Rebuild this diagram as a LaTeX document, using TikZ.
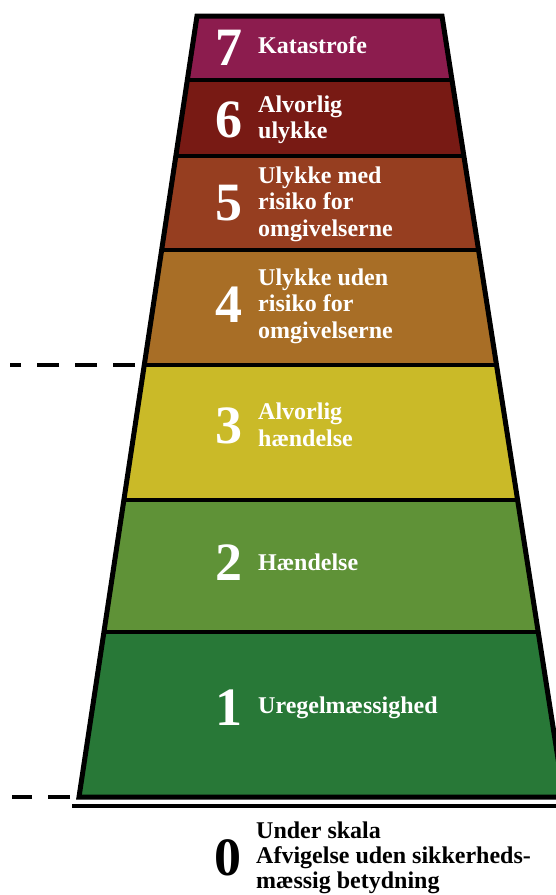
\documentclass[tikz,border=0pt]{standalone}
\usepackage{fontspec}
\setmainfont{Liberation Serif}
\definecolor{c7}{RGB}{140,28,78}
\definecolor{c6}{RGB}{120,26,20}
\definecolor{c5}{RGB}{150,62,32}
\definecolor{c4}{RGB}{168,110,38}
\definecolor{c3}{RGB}{202,186,40}
\definecolor{c2}{RGB}{95,146,55}
\definecolor{c1}{RGB}{40,120,55}
\begin{document}
\begin{tikzpicture}[x=1pt,y=-1pt,
  digit/.style={anchor=base,inner sep=0pt,text=white,font=\fontsize{54}{54}\selectfont\bfseries},
  lbl/.style={anchor=base west,inner sep=0pt,text=white,font=\fontsize{24}{26.5}\selectfont\bfseries},
  mlbl/.style={anchor=west,inner sep=0pt,align=left,text=white,font=\fontsize{24}{26.5}\selectfont\bfseries},
  blbl/.style={mlbl,text=black,font=\fontsize{24}{25}\selectfont\bfseries},
  bdigit/.style={digit,text=black},
  divider/.style={line width=4pt},
  outline/.style={line width=5pt,line join=miter},
  dashline/.style={line width=4pt,dash pattern=on 22pt off 16pt}]
\useasboundingbox (0,0) rectangle (556,895);
\fill[white] (0,0) rectangle (556,895);
\coordinate (TL) at (197,16);
\coordinate (TR) at (442,16);
\coordinate (BR) at (564,797);
\coordinate (BL) at (79,797);
\begin{scope}
  \clip (TL)--(TR)--(BR)--(BL)--cycle;
  \fill[c7] (0,16) rectangle (600,80);
  \fill[c6] (0,80) rectangle (600,156);
  \fill[c5] (0,156) rectangle (600,250);
  \fill[c4] (0,250) rectangle (600,365);
  \fill[c3] (0,365) rectangle (600,500);
  \fill[c2] (0,500) rectangle (600,632);
  \fill[c1] (0,632) rectangle (600,797);
  \foreach \yy in {80,156,250,365,500,632}
    \draw[divider] (0,\yy) -- (600,\yy);
\end{scope}
\draw[outline] (TL)--(TR)--(BR)--(BL)--cycle;
% base line
\coordinate (B1) at (72,806);
\coordinate (B2) at (580,806);
\draw[line width=4pt] (B1) -- (B2);
% dashed lines
\coordinate (D1a) at (135,365);
\coordinate (D1b) at (10,365);
\draw[dashline] (D1a) -- (D1b);
\coordinate (D2a) at (70,797);
\coordinate (D2b) at (12,797);
\draw[dashline] (D2a) -- (D2b);
% level 7
\node[digit] (n7) at (229,65) {7};
\node[lbl] (t7) at (258,53) {Katastrofe};
% level 6
\node[digit] (n6) at (229,137) {6};
\node[mlbl] (t6) at (258,119.7) {Alvorlig\\ulykke};
% level 5
\node[digit] (n5) at (229,220) {5};
\node[mlbl] (t5) at (258,204) {Ulykke med\\risiko for\\omgivelserne};
% level 4
\node[digit] (n4) at (229,322) {4};
\node[mlbl] (t4) at (258,306) {Ulykke uden\\risiko for\\omgivelserne};
% level 3
\node[digit] (n3) at (229,443) {3};
\node[mlbl] (t3) at (258,425) {Alvorlig\\hændelse};
% level 2
\node[digit] (n2) at (229,580) {2};
\node[lbl] (t2) at (258,570) {Hændelse};
% level 1
\node[digit] (n1) at (229,725) {1};
\node[lbl] (t1) at (258,713) {Uregelmæssighed};
% level 0
\node[bdigit] (n0) at (228,875) {0};
\node[blbl] (t0) at (256,857.5) {Under skala\\Afvigelse uden sikkerheds-\\mæssig betydning};
\end{tikzpicture}
\end{document}
